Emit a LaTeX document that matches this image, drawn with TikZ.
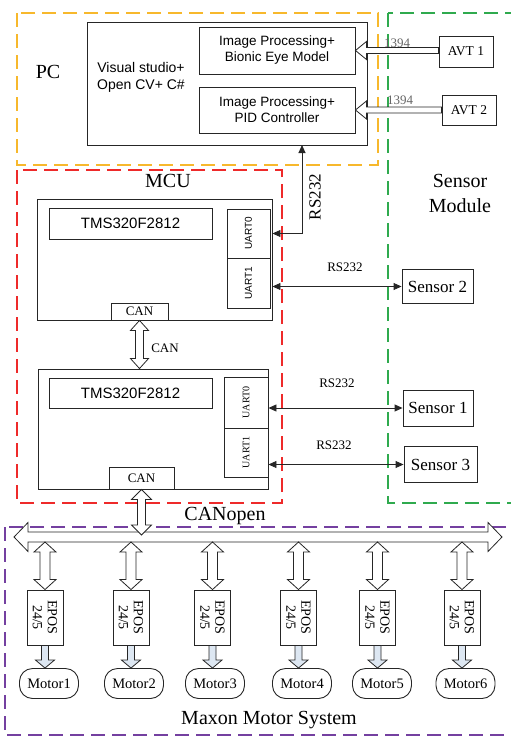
\documentclass[tikz,border=0pt]{standalone}
\usepackage{fontspec}
\setmainfont{Liberation Serif}
\newfontfamily\arialf{Liberation Sans}
\usetikzlibrary{arrows.meta,calc}

% hollow block arrows between named points
\newcommand{\fatud}[4]{%
  \draw[fatline] let \p1=(#1), \p2=(#2) in
    (\x1,\y1) -- (\x1+#4,\y1-10pt) -- (\x1+#3,\y1-10pt) -- (\x1+#3,\y2+10pt)
    -- (\x1+#4,\y2+10pt) -- (\x1,\y2) -- (\x1-#4,\y2+10pt) -- (\x1-#3,\y2+10pt)
    -- (\x1-#3,\y1-10pt) -- (\x1-#4,\y1-10pt) -- cycle;}
\newcommand{\fatleft}[2]{%
  \draw[fatline] let \p1=(#1), \p2=(#2) in
    (\x1,\y1) -- (\x1+11pt,\y1+9pt) -- (\x1+11pt,\y1+3pt) -- (\x2,\y1+3pt)
    -- (\x2,\y1-3pt) -- (\x1+11pt,\y1-3pt) -- (\x1+11pt,\y1-9pt) -- cycle;}
\newcommand{\fatlr}[2]{%
  \draw[fatline] let \p1=(#1), \p2=(#2) in
    (\x1,\y1) -- (\x1+14pt,\y1+14.5pt) -- (\x1+14pt,\y1+5pt) -- (\x2-14pt,\y1+5pt)
    -- (\x2-14pt,\y1+14.5pt) -- (\x2,\y1) -- (\x2-14pt,\y1-14.5pt) -- (\x2-14pt,\y1-5pt)
    -- (\x1+14pt,\y1-5pt) -- (\x1+14pt,\y1-14.5pt) -- cycle;}
\newcommand{\fatdown}[2]{%
  \draw[fatline,fill=drivefill] let \p1=(#1), \p2=(#2) in
    (\x1-3.5pt,\y1) -- (\x1-3.5pt,\y2+8pt) -- (\x1-9.5pt,\y2+8pt) -- (\x1,\y2)
    -- (\x1+9.5pt,\y2+8pt) -- (\x1+3.5pt,\y2+8pt) -- (\x1+3.5pt,\y1) -- cycle;}

\begin{document}
\begin{tikzpicture}[x=1pt,y=-1pt,
    box/.style={draw=black!85,line width=0.9pt,inner sep=0pt},
    fatline/.style={draw=black!85,line width=0.8pt,fill=white,line join=miter},
    zone/.style={line width=1.8pt,dash pattern=on 14pt off 7pt},
    rsline/.style={draw=black!85,line width=0.9pt,{Triangle[length=8pt,width=7pt]}-{Triangle[length=8pt,width=7pt]}},
    sanslbl/.style={font=\arialf\fontsize{14}{17}\selectfont,align=center},
    motorbox/.style={draw=black!85,line width=0.9pt,rounded corners=13pt,minimum width=59pt,minimum height=30pt,inner sep=0pt,font=\fontsize{14.5}{17}\selectfont},
    eposbox/.style={box,minimum width=36pt,minimum height=55pt}]
\definecolor{pcorange}{HTML}{F7B82C}
\definecolor{mcured}{HTML}{EE2A2A}
\definecolor{sensgreen}{HTML}{2FAA4E}
\definecolor{maxpurple}{HTML}{7440A0}
\definecolor{drivefill}{HTML}{DDE7F2}
\useasboundingbox (0,0) rectangle (511,736);

% zones
\draw[zone,pcorange] (17,13) rectangle (378,165);
\draw[zone,mcured] (17,170) rectangle (282,503);
\draw[zone,sensgreen] (388,13) rectangle (520,503);
\draw[zone,maxpurple] (5,527) rectangle (520,735);

% PC
\node[font=\fontsize{20}{24}\selectfont] (pclbl) at (48,72) {PC};
\node[box,minimum width=280pt,minimum height=123pt] (vs) at (227,83.5) {};
\node[sanslbl] (vstxt) at (141,77) {Visual studio+\\Open CV+ C\#};
\node[box,sanslbl,font=\arialf\fontsize{13.5}{16}\selectfont,minimum width=156pt,minimum height=47pt] (img1) at (277,50.5) {Image Processing+\\Bionic Eye Model};
\node[box,sanslbl,font=\arialf\fontsize{13.5}{16}\selectfont,minimum width=156pt,minimum height=46pt] (img2) at (277,110) {Image Processing+\\PID Controller};

% cameras
\node[box,minimum width=54pt,minimum height=31pt,font=\fontsize{13.5}{16}\selectfont] (avt1) at (466,51.5) {AVT 1};
\node[box,minimum width=54pt,minimum height=30pt,font=\fontsize{13.5}{16}\selectfont] (avt2) at (469,110) {AVT 2};
\fatleft{img1.east}{avt1.west}
\fatleft{img2.east}{avt2.west}
\node[text=black!60,font=\fontsize{13}{15}\selectfont] (fw1) at (397,43) {1394};
\node[text=black!60,font=\fontsize{13}{15}\selectfont] (fw2) at (400,100) {1394};

% MCU
\node[font=\fontsize{20}{24}\selectfont] (mculbl) at (168,181) {MCU};
\node[box,minimum width=235pt,minimum height=121pt] (mcu1) at (154.5,259.5) {};
\node[box,font=\arialf\fontsize{15}{18}\selectfont,minimum width=163pt,minimum height=31pt] (tms1) at (130.5,223.5) {TMS320F2812};
\node[box,minimum width=43pt,minimum height=49pt] (u0a) at (248.5,233.5) {};
\node[box,minimum width=43pt,minimum height=50pt] (u1a) at (248.5,283) {};
\node[rotate=90,font=\arialf\fontsize{10}{12}\selectfont] at (u0a) {UART0};
\node[rotate=90,font=\arialf\fontsize{10}{12}\selectfont] at (u1a) {UART1};
\node[box,fill=white,minimum width=57pt,minimum height=17pt,font=\fontsize{13}{15}\selectfont] (can1) at (139.5,311.5) {CAN};

\node[box,minimum width=230pt,minimum height=120pt] (mcu2) at (153,429) {};
\node[box,font=\arialf\fontsize{15}{18}\selectfont,minimum width=163pt,minimum height=30pt] (tms2) at (130.5,393) {TMS320F2812};
\node[box,minimum width=44pt,minimum height=51pt] (u0b) at (246,402.5) {};
\node[box,minimum width=44pt,minimum height=49pt] (u1b) at (246,452.5) {};
\node[rotate=90,font=\fontsize{10}{12}\selectfont] at (u0b) {UART0};
\node[rotate=90,font=\fontsize{10}{12}\selectfont] at (u1b) {UART1};
\node[box,fill=white,minimum width=65pt,minimum height=22pt,font=\fontsize{13}{15}\selectfont] (can2) at (141.5,478) {CAN};

\fatud{can1.south}{can1.south |- mcu2.north}{4pt}{9pt}
\node[font=\fontsize{13}{15}\selectfont] (canlbl) at (165,348) {CAN};

% serial links
\coordinate (rsup) at (302,145);
\draw[rsline] (rsup) |- (u0a.east -| mcu1.east);
\node[rotate=90,font=\fontsize{17}{20}\selectfont] (rslbl0) at (315,197) {RS232};

\node[font=\fontsize{20}{25}\selectfont,align=center] (senslbl) at (460,193) {Sensor\\Module};
\node[box,minimum width=71pt,minimum height=34pt,font=\fontsize{17}{20}\selectfont] (s2) at (437.5,286.5) {Sensor 2};
\node[box,minimum width=70pt,minimum height=36pt,font=\fontsize{17}{20}\selectfont] (s1) at (438,408) {Sensor 1};
\node[box,minimum width=73pt,minimum height=36pt,font=\fontsize{17}{20}\selectfont] (s3) at (440.5,464.5) {Sensor 3};
\draw[rsline] (s2.west -| mcu1.east) -- (s2.west);
\draw[rsline] (s1.west -| mcu2.east) -- (s1.west);
\draw[rsline] (s3.west -| mcu2.east) -- (s3.west);
\node[font=\fontsize{13}{15}\selectfont] (rslbl2) at (345,267) {RS232};
\node[font=\fontsize{13}{15}\selectfont] (rslbl1) at (337,383) {RS232};
\node[font=\fontsize{13}{15}\selectfont] (rslbl3) at (334,445) {RS232};

% CANopen bus
\coordinate (busL) at (14,537);
\coordinate (busR) at (502,537);
\fatlr{busL}{busR}
\fatud{can2.south}{can2.south |- 0,535}{4pt}{10pt}
\node[font=\fontsize{20}{24}\selectfont] (buslbl) at (225,516) {CANopen};

% drives and motors
\foreach \i/\ex/\mx in {1/45/49,2/131/134,3/212.5/215,4/298.5/302,5/377.5/382,6/462/465.5}{
  \node[eposbox] (epos\i) at (\ex,617.5) {};
  \node[rotate=-90,align=center,font=\fontsize{14}{15}\selectfont] at (epos\i) {EPOS\\24/5};
  \node[motorbox] (motor\i) at (\mx,683.5) {Motor\i};
  \fatud{epos\i.north |- 0,542}{epos\i.north}{5pt}{11pt}
  \fatdown{epos\i.south}{epos\i.south |- motor\i.north}
}
\node[font=\fontsize{20}{24}\selectfont] (maxlbl) at (269,720) {Maxon Motor System};
\end{tikzpicture}
\end{document}
